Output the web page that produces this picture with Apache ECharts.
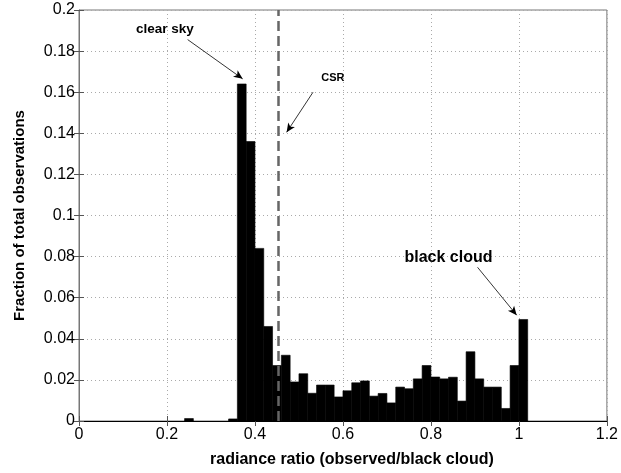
<!DOCTYPE html>
<html>
<head>
<meta charset="utf-8">
<script src="https://cdn.jsdelivr.net/npm/echarts@6/dist/echarts.min.js"></script>
<style>
html,body{margin:0;padding:0;background:#fff;}
#chart{width:621px;height:473px;}
</style>
</head>
<body>
<div id="chart"></div>
<script>
// Histogram bins (left edges) and their fractions
const binLeft = [0.24, 0.34, 0.36, 0.38, 0.40, 0.42, 0.44, 0.46, 0.48, 0.50,
  0.52, 0.54, 0.56, 0.58, 0.60, 0.62, 0.64, 0.66, 0.68, 0.70,
  0.72, 0.74, 0.76, 0.78, 0.80, 0.82, 0.84, 0.86, 0.88, 0.90,
  0.92, 0.94, 0.96, 0.98, 1.00];
const fractions = [0.0012, 0.001, 0.164, 0.136, 0.084, 0.046, 0.027, 0.032, 0.019, 0.023,
  0.0135, 0.0175, 0.0175, 0.0117, 0.0147, 0.0186, 0.0195, 0.0121, 0.0134, 0.0088,
  0.0165, 0.0157, 0.0205, 0.027, 0.0214, 0.0205, 0.0213, 0.0097, 0.0337, 0.0205,
  0.0165, 0.0165, 0.0061, 0.027, 0.0494];
const binWidth = 0.02;
const xTicks = [0, 0.2, 0.4, 0.6, 0.8, 1, 1.2];
const yTicks = [0, 0.02, 0.04, 0.06, 0.08, 0.1, 0.12, 0.14, 0.16, 0.18, 0.2];
const csrValue = 0.453;
// annotations: [text, textX, textY, arrowFromX, arrowFromY, arrowToX, arrowToY]
const annotations = [
  ['clear sky', 0.195, 0.1905, 0.247, 0.1856, 0.372, 0.1665],
  ['CSR', 0.577, 0.1669, 0.532, 0.160, 0.472, 0.1405],
  ['black cloud', 0.840, 0.0796, 0.906, 0.0748, 0.995, 0.0515]
];
const annoFont = [13.5, 11, 16];

const histData = binLeft.map((l, i) => [l, +(l + binWidth).toFixed(4), fractions[i]]);

const font = 'Liberation Sans, Arial, Helvetica, sans-serif';
const chart = echarts.init(document.getElementById('chart'), null, {renderer: 'canvas'});

const axisCommon = {
  type: 'value',
  axisTick: {show: true, inside: true, length: 5, lineStyle: {color: '#555'}},
  splitLine: {show: true, lineStyle: {type: [1, 3], color: '#aaa', width: 1}}
};

chart.setOption({
  animation: false,
  backgroundColor: '#fff',
  grid: {left: 79, right: 12, top: 10, bottom: 46, show: true, borderColor: '#777', borderWidth: 1, backgroundColor: 'transparent'},
  xAxis: [
    Object.assign({}, axisCommon, {
      min: xTicks[0], max: xTicks[xTicks.length - 1], interval: 0.2,
      axisLine: {show: true, lineStyle: {color: '#000', width: 1.2}},
      axisLabel: {color: '#000', fontSize: 16, fontFamily: font, margin: 6},
      name: 'radiance ratio (observed/black cloud)', nameLocation: 'middle', nameGap: 31,
      nameTextStyle: {color: '#000', fontSize: 16, fontWeight: 'bold', fontFamily: font, padding: [0, 0, 0, 18]}
    }),
    Object.assign({}, axisCommon, {
      position: 'top', min: 0, max: 1.2, interval: 0.2,
      axisLine: {show: false}, axisLabel: {show: false}, splitLine: {show: false}
    })
  ],
  yAxis: [
    Object.assign({}, axisCommon, {
      min: yTicks[0], max: yTicks[yTicks.length - 1], interval: 0.02,
      axisLine: {show: true, lineStyle: {color: '#777', width: 1}},
      axisLabel: {color: '#000', fontSize: 16, fontFamily: font, margin: 4},
      name: 'Fraction of total observations', nameLocation: 'middle', nameGap: 52,
      nameTextStyle: {color: '#000', fontSize: 15, fontWeight: 'bold', fontFamily: font}
    }),
    Object.assign({}, axisCommon, {
      position: 'right', min: 0, max: 0.2, interval: 0.02,
      axisLine: {show: false}, axisLabel: {show: false}, splitLine: {show: false}
    })
  ],
  series: [
    {
      type: 'custom',
      data: histData,
      encode: {x: [0, 1], y: 2},
      renderItem: function (params, api) {
        const p0 = api.coord([api.value(0), api.value(2)]);
        const p1 = api.coord([api.value(1), 0]);
        return {
          type: 'rect',
          shape: {x: p0[0], y: p0[1], width: p1[0] - p0[0], height: p1[1] - p0[1]},
          style: {fill: '#000', stroke: '#000', lineWidth: 0.6}
        };
      },
      z: 2
    },
    {
      type: 'line',
      data: [],
      z: 5,
      markLine: {
        silent: true,
        animation: false,
        label: {show: false},
        data: [
          [{coord: [csrValue, 0], symbol: 'none', lineStyle: {type: [10, 5], color: '#666', width: 2.5}},
           {coord: [csrValue, 0.2], symbol: 'none'}]
        ].concat(annotations.map(a => [
          {coord: [a[3], a[4]], symbol: 'none', lineStyle: {type: 'solid', color: '#000', width: 0.8}},
          {coord: [a[5], a[6]], symbol: 'arrow', symbolSize: [6, 9]}
        ]))
      },
      markPoint: {
        silent: true,
        animation: false,
        symbol: 'circle',
        symbolSize: 0,
        data: annotations.map((a, i) => ({
          coord: [a[1], a[2]],
          label: {show: true, position: 'inside', formatter: a[0], color: '#000',
            fontWeight: 'bold', fontSize: annoFont[i], fontFamily: font}
        }))
      }
    }
  ]
});
</script>
</body>
</html>
